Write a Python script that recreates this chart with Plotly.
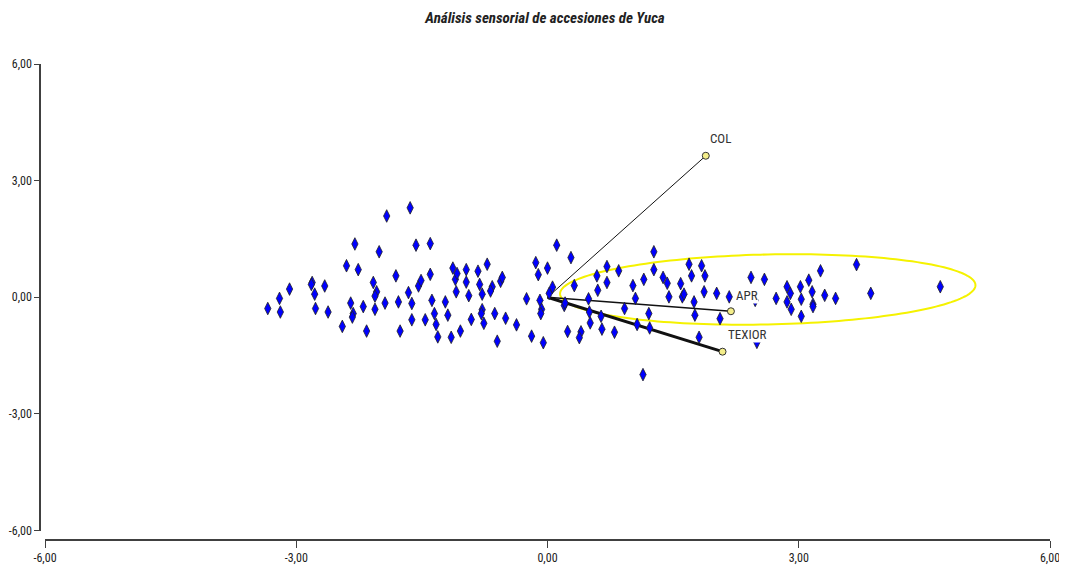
import numpy as np
import plotly.graph_objects as go

TITLE = "Análisis sensorial de accesiones de Yuca"

# Observations (accessions) scores
obs_x = [-3.34, -3.20, -3.19, -3.08, -2.81, -2.82, -2.78, -2.77, -2.66, -2.62,
         -2.45, -2.40, -2.30, -2.26, -2.35, -2.32, -2.33, -2.20, -2.16, -2.08,
         -2.04, -2.06, -2.06, -2.01, -1.94, -1.92, -1.81, -1.78, -1.76, -1.66,
         -1.64, -1.57, -1.62, -1.62, -1.54, -1.51, -1.46, -1.40, -1.40, -1.38,
         -1.35, -1.33, -1.31, -1.22, -1.19, -1.15, -1.13, -1.10, -1.08, -0.97,
         -0.97, -1.09, -0.94, -1.04, -0.91, -0.83, -0.81, -0.72, -0.78, -0.78,
         -0.79, -0.76, -0.66, -0.68, -0.63, -0.60, -0.56, -0.54, -0.50, -0.37,
         -0.25, -0.19, -0.14, -0.11, -0.09, -0.07, -0.08, -0.05, 0.00, 0.02,
         0.06, 0.11, 0.28, 0.32, 0.20, 0.21, 0.24, 0.40, 0.38, 0.49,
         0.50, 0.51, 0.59, 0.71, 0.71, 0.60, 0.64, 0.65, 0.80, 0.85,
         0.92, 1.02, 1.05, 1.07, 1.15, 1.21, 1.22, 1.27, 1.27, 1.38,
         1.43, 1.45, 1.59, 1.61, 1.63, 1.69, 1.72, 1.75, 1.76, 1.81,
         1.84, 1.88, 1.87, 2.02, 2.06, 2.17, 1.14, 2.43, 2.59, 2.50,
         2.48, 2.73, 2.86, 2.90, 2.86, 2.91, 3.02, 3.03, 3.03, 3.12,
         3.16, 3.17, 3.17, 3.26, 3.31, 3.44, 3.69, 3.86, 4.69]
obs_y = [-0.29, -0.03, -0.38, 0.21, 0.38, 0.33, 0.08, -0.29, 0.29, -0.38,
         -0.75, 0.81, 1.37, 0.71, -0.15, -0.42, -0.51, -0.24, -0.87, 0.38,
         0.14, 0.03, -0.31, 1.17, -0.15, 2.09, 0.55, -0.12, -0.87, 0.12,
         2.30, 1.34, -0.16, -0.58, 0.29, 0.43, -0.58, 1.38, 0.59, -0.08,
         -0.42, -0.70, -1.02, -0.12, -0.46, -1.03, 0.75, 0.46, 0.61, 0.71,
         0.39, 0.14, 0.04, -0.87, -0.57, 0.67, 0.33, 0.85, 0.08, -0.32,
         -0.42, -0.67, 0.27, 0.16, -0.42, -1.13, 0.41, 0.51, -0.54, -0.71,
         -0.04, -1.00, 0.89, 0.58, -0.08, -0.31, -0.42, -1.17, 0.75, 0.10,
         0.26, 1.34, 1.02, 0.30, -0.21, -0.15, -0.88, -0.89, -1.04, -0.04,
         -0.38, -0.66, 0.55, 0.79, 0.38, 0.18, -0.49, -0.82, -0.90, 0.68,
         -0.29, 0.30, -0.03, -0.70, 0.46, -0.42, -0.79, 1.17, 0.71, 0.51,
         0.36, 0.01, 0.35, 0.01, 0.08, 0.85, 0.55, -0.12, -0.46, -1.03,
         0.81, 0.55, 0.14, 0.10, -0.55, 0.01, -1.99, 0.51, 0.46, -1.16,
         -0.08, -0.03, 0.27, 0.10, -0.12, -0.31, 0.27, -0.05, -0.49, 0.44,
         0.14, -0.18, -0.24, 0.68, 0.05, -0.03, 0.84, 0.10, 0.27]

# Variables (loadings)
var_names = ["COL", "APR", "TEXIOR"]
var_x = [1.89, 2.19, 2.09]
var_y = [3.64, -0.36, -1.40]
var_widths = [1, 1.6, 3]

# Highlight ellipse (center, semi-axes, tilt slope)
ell_cx, ell_cy = 2.63, 0.20
ell_a, ell_b = 2.48, 0.90
ell_k = 0.044

tick_vals = [-6, -3, 0, 3, 6]
tick_text = ["-6,00", "-3,00", "0,00", "3,00", "6,00"]

FONT = "Liberation Sans Narrow, Arial Narrow, Roboto Condensed, Liberation Sans, Arial, sans-serif"

# page body has an 8px default margin: figure is sized to fill the rest of the window
PAGE_OFF = 8
W, H = 1067 - PAGE_OFF, 575 - PAGE_OFF

fig = go.Figure()

# ellipse
t = np.linspace(0, 2 * np.pi, 181)
ex = ell_cx + ell_a * np.cos(t)
ey = ell_cy + ell_b * np.sin(t) + ell_k * ell_a * np.cos(t)
path = "M " + " L ".join(f"{a:.4f},{b:.4f}" for a, b in zip(ex, ey)) + " Z"
fig.add_shape(type="path", path=path, xref="x", yref="y",
              line=dict(color="#f5f200", width=2), layer="below")

# vectors
for name, vx, vy, w in zip(var_names, var_x, var_y, var_widths):
    fig.add_trace(go.Scatter(x=[0, vx], y=[0, vy], mode="lines",
                             line=dict(color="#111111", width=w),
                             hoverinfo="skip", showlegend=False))

# observations
fig.add_trace(go.Scatter(x=obs_x, y=obs_y, mode="markers",
                         marker=dict(symbol="diamond-tall", size=9, color="#0000ff",
                                     line=dict(color="#222222", width=0.8)),
                         showlegend=False))

# vector end points
fig.add_trace(go.Scatter(x=var_x, y=var_y, mode="markers",
                         marker=dict(symbol="circle", size=7, color="#f4ee8a",
                                     line=dict(color="#333333", width=1)),
                         showlegend=False))

label_shift = {"COL": (15, 17), "APR": (16, 16), "TEXIOR": (24, 17)}
for name, vx, vy in zip(var_names, var_x, var_y):
    dx, dy = label_shift[name]
    fig.add_annotation(x=vx, y=vy, text=name, showarrow=False, xshift=dx, yshift=dy,
                       font=dict(family=FONT, size=13, color="#333333"),
                       bgcolor="white", borderpad=0)

axis_common = dict(showgrid=False, zeroline=False, showline=True, linecolor="#404040",
                   linewidth=1.5, ticks="outside", tickcolor="#404040", automargin=False,
                   tickvals=tick_vals, ticktext=tick_text,
                   tickfont=dict(family=FONT, size=12, color="#222222"))

fig.update_layout(
    template="none",
    width=W, height=H,
    margin=dict(l=40 - PAGE_OFF, r=17, t=64 - PAGE_OFF, b=35, autoexpand=False),
    plot_bgcolor="white", paper_bgcolor="white",
    title=dict(text=TITLE, x=0.5, xref="paper", y=1 - (18 - PAGE_OFF) / H, yref="container",
               yanchor="middle", xanchor="center",
               font=dict(family=FONT, size=15, color="#222222", weight="bold", style="italic")),
    xaxis=dict(range=[-6, 6], domain=[5 / 1010, 1], anchor="free", position=0,
               ticklen=7, **axis_common),
    yaxis=dict(range=[-6, 6], domain=[9.5 / 476, 1], anchor="free", position=0,
               ticklen=5, **axis_common),
    showlegend=False,
)

fig.write_html("out.html")
